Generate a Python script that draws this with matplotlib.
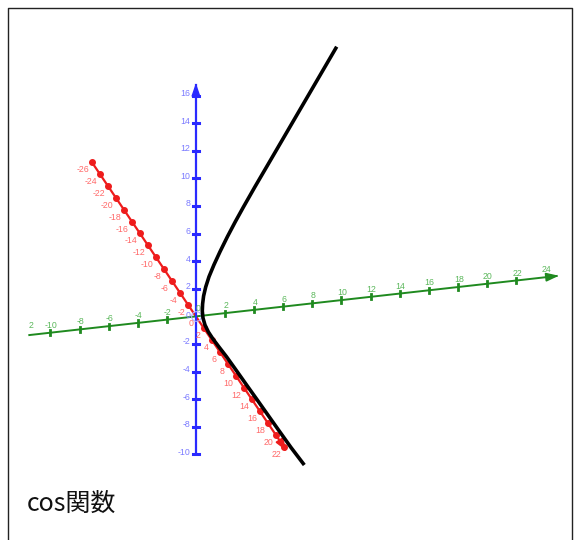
import numpy as np
import matplotlib
matplotlib.use("Agg")
import matplotlib.pyplot as plt
from matplotlib.patches import Polygon

plt.rcParams['font.family'] = ['Noto Sans CJK JP', 'DejaVu Sans']

# Projected screen geometry of the 3D view (pixels)
origin = np.array([195.9, 316.4])
x_dir = np.array([4.0, 5.93])      # red axis, per unit
y_dir = np.array([14.55, -1.63])   # green axis, per unit
z_dir = np.array([0.0, -13.8])     # blue axis, per unit

# Axis extents and tick values
x_range = (-26, 22.4)
y_range = (-11.45, 24.8)
z_range = (-10, 16.75)
x_ticks = [v for v in range(-26, 23, 2) if v != 0]
y_ticks = [v for v in range(-10, 23, 2) if v != 0]
z_ticks = [v for v in range(-10, 17, 2) if v != 0]
x_labels = [str(v) for v in x_ticks]
y_label_vals = [v for v in range(-10, 25, 2) if v != 0]
y_labels = [str(v) for v in y_label_vals]
z_labels = [str(v) for v in z_ticks]

# Traced curve (screen pixels)
curve_x = [336.7, 319.2, 301.7, 284.2, 266.7, 255.0, 243.6, 235.3, 227.4, 220.0,
           214.0, 209.0, 205.7, 203.6, 202.6, 202.3, 203.0, 205.0, 208.4, 213.0,
           219.0, 226.5, 236.0, 246.6, 257.3, 267.9, 278.5, 291.0, 304.3]
curve_y = [46.7, 76.7, 106.7, 136.7, 166.7, 186.7, 206.7, 221.7, 236.7, 251.7,
           264.7, 276.7, 287.0, 296.0, 304.0, 311.0, 318.0, 325.0, 332.0, 339.0,
           347.0, 356.7, 370.0, 385.0, 400.0, 415.0, 430.0, 447.5, 465.0]

fig = plt.figure(figsize=(5.75, 5.40), dpi=100)
ax = fig.add_axes([0, 0, 1, 1])
ax.set_xlim(0, 575)
ax.set_ylim(540, 0)
ax.axis('off')

def pt(d, v):
    return origin + d * v

# frame
ax.plot([8, 8, 572, 572], [545, 8, 8, 545], color='#222222', lw=1.0, solid_capstyle='butt')

def draw_axis(d, rng, color, lw):
    p0, p1 = pt(d, rng[0]), pt(d, rng[1])
    ax.plot([p0[0], p1[0]], [p0[1], p1[1]], color=color, lw=lw, zorder=2)
    u = (p1 - p0) / np.linalg.norm(p1 - p0)
    nrm = np.array([-u[1], u[0]])
    tip = p1
    base = tip - u * 11
    tri = [tip, base + nrm * 3.8, base - nrm * 3.8]
    ax.add_patch(Polygon(tri, closed=True, color=color, zorder=3))

# red x axis
red, red_lbl = '#ee1c1c', '#ff6a6a'
draw_axis(x_dir, x_range, red, 1.6)
for v, s in zip(x_ticks, x_labels):
    p = pt(x_dir, v)
    ax.plot(p[0], p[1], 'o', color=red, ms=4.0, zorder=3)
    ax.text(p[0] - 3, p[1] + 7.5, s, color=red_lbl, fontsize=6.3, ha='right', va='center',
            family='Liberation Sans')
ax.text(191, 323.5, '0', color=red_lbl, fontsize=6.3, ha='center', va='center', family='Liberation Sans')

# green y axis
green, green_lbl = '#1f8a1f', '#5cb85c'
draw_axis(y_dir, y_range, green, 1.4)
for v in y_ticks:
    p = pt(y_dir, v)
    ax.plot([p[0], p[0]], [p[1] - 2.6, p[1] + 2.6], color=green, lw=2.0, zorder=3)
for v, s in zip(y_label_vals, y_labels):
    p = pt(y_dir, v)
    ax.text(p[0] + 1, p[1] - 7.5, s, color=green_lbl, fontsize=6.3, ha='center', va='center',
            family='Liberation Sans')
ax.text(31, 326, '2', color=green_lbl, fontsize=6.3, ha='center', va='center', family='Liberation Sans')
ax.text(198.5, 308.5, '0', color=green_lbl, fontsize=6.3, ha='center', va='center', family='Liberation Sans')

# blue z axis
blue, blue_lbl = '#2a2aff', '#7b7bff'
draw_axis(z_dir, z_range, blue, 1.6)
for v in z_ticks:
    p = pt(z_dir, v)
    ax.plot([p[0] - 3, p[0] + 3], [p[1], p[1]], color=blue, lw=2.2, zorder=3)
for v, s in zip(z_ticks, z_labels):
    p = pt(z_dir, v)
    ax.text(p[0] - 5.5, p[1] - 2, s, color=blue_lbl, fontsize=6.3, ha='right', va='center',
            family='Liberation Sans')
ax.text(188.5, 315, '0', color=blue_lbl, fontsize=6.3, ha='center', va='center', family='Liberation Sans')
ax.plot(195.9, 316.4, 'o', mfc='none', mec='#b0b0ff', ms=7, mew=0.8, zorder=2)

# curve
ax.plot(curve_x, curve_y, color='black', lw=2.6, solid_capstyle='butt', solid_joinstyle='round', zorder=4)

# caption
ax.text(27, 504, 'cos関数', fontsize=18, color='#111111', ha='left', va='center',
        family=['Noto Sans CJK JP', 'DejaVu Sans'])

fig.savefig('out.png', dpi=100)
